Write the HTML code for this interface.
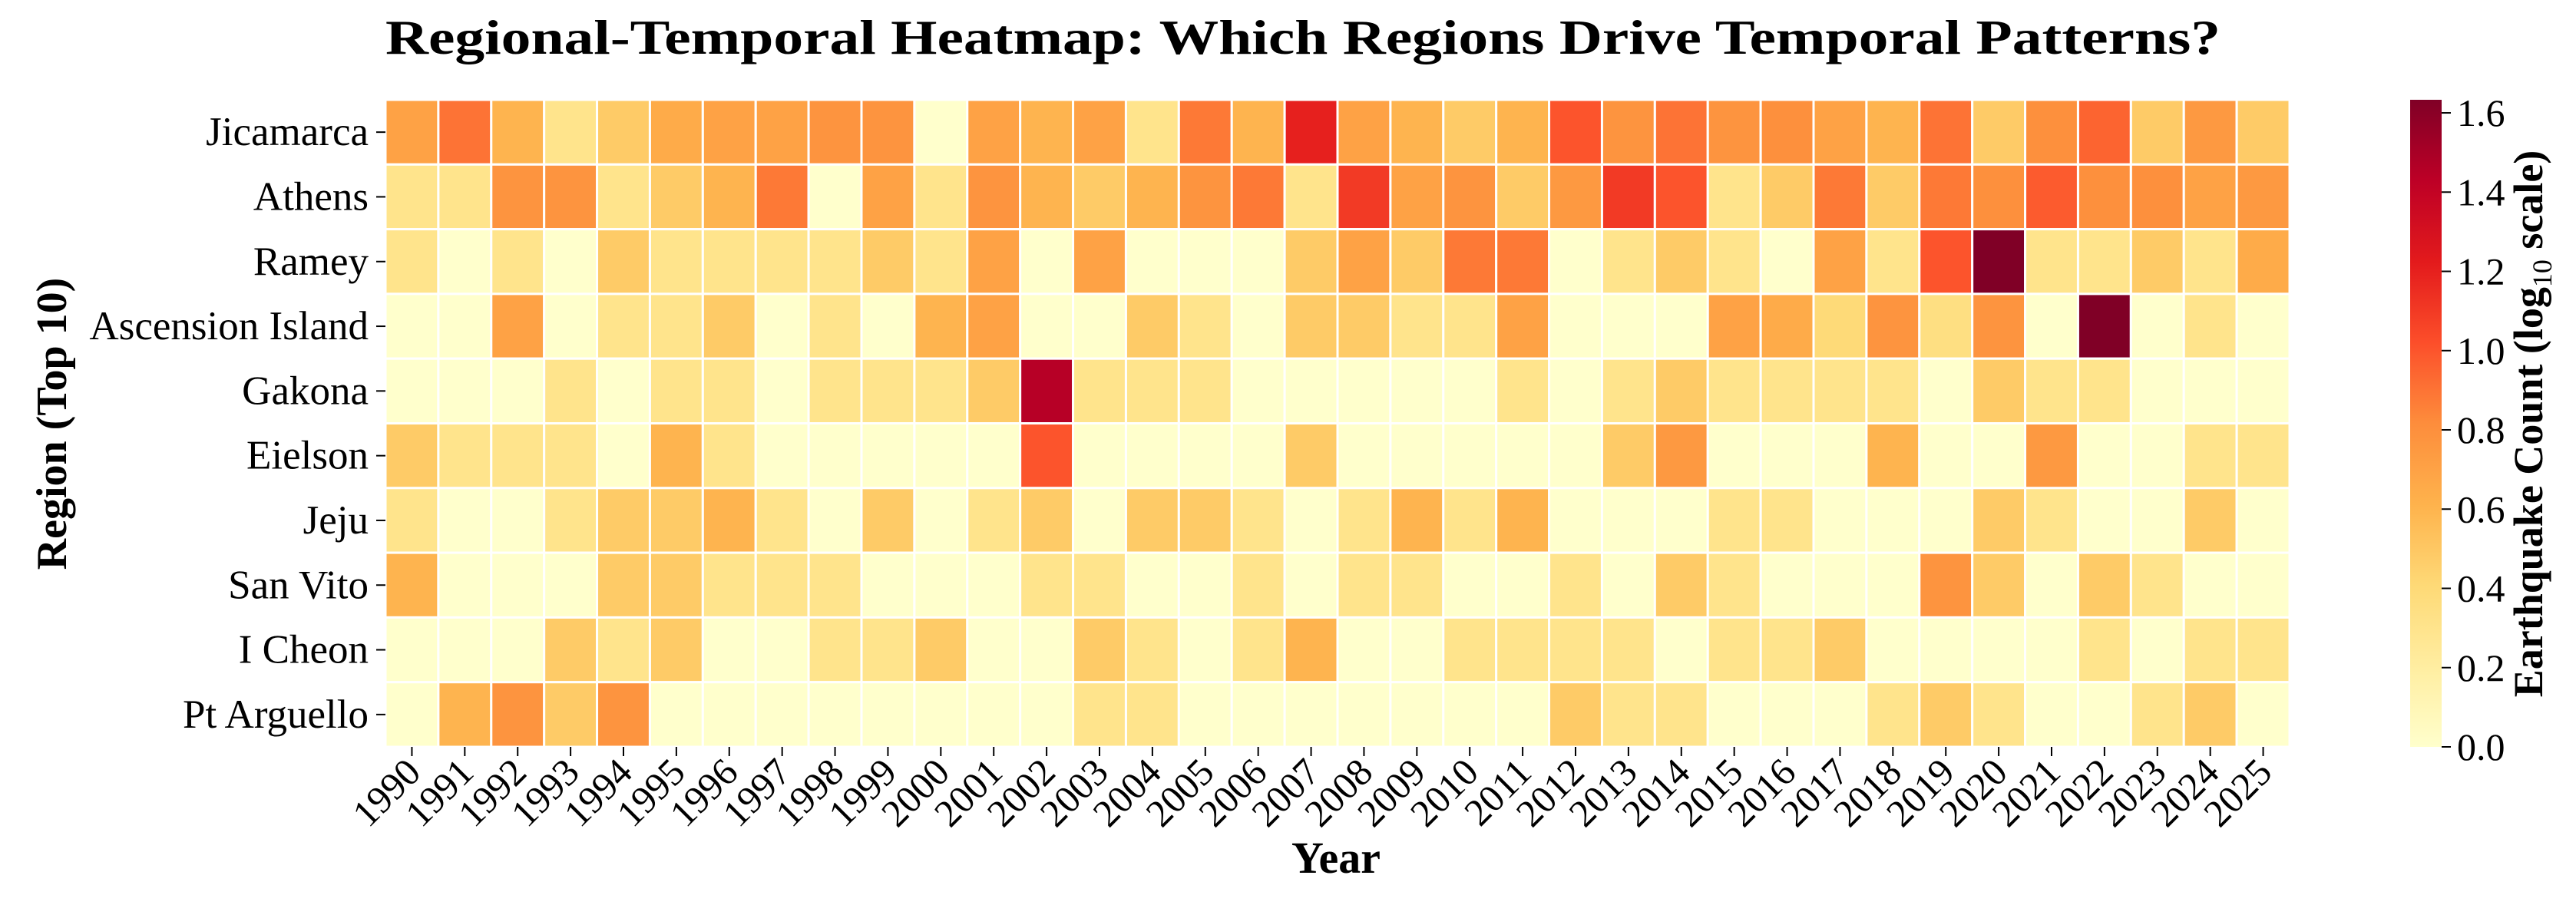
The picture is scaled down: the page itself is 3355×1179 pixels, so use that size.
<!DOCTYPE html>
<html><head><meta charset="utf-8"><style>
html,body{margin:0;padding:0;background:#fff;}
svg text{font-family:"Liberation Serif","DejaVu Serif",serif;fill:#000;}
</style></head><body>
<svg id="chart" width="3355" height="1174" viewBox="0 0 3355 1174" xmlns="http://www.w3.org/2000/svg">
<text x="1697" y="70" font-size="64" font-weight="bold" text-anchor="middle" textLength="2390" lengthAdjust="spacingAndGlyphs">Regional-Temporal Heatmap: Which Regions Drive Temporal Patterns?</text>
<g id="cells"></g>
<g id="yaxis"></g>
<g id="xaxis"></g>
<text x="0" y="0" font-size="56" font-weight="bold" text-anchor="middle" transform="translate(86,552) rotate(-90)">Region (Top 10)</text>
<text x="1740" y="1137" font-size="58" font-weight="bold" text-anchor="middle">Year</text>
<defs><linearGradient id="cbgrad" x1="0" y1="1" x2="0" y2="0"></linearGradient></defs>
<rect x="3139" y="130" width="41" height="843" fill="url(#cbgrad)"/>
<g id="cbaxis"></g>
<text x="0" y="0" font-size="54" font-weight="bold" text-anchor="middle" transform="translate(3311,552) rotate(-90)">Earthquake Count (log<tspan font-weight="normal" font-size="36" dy="12">10</tspan><tspan dy="-12"> scale)</tspan></text>
</svg>
<script>
const regions = ["Jicamarca","Athens","Ramey","Ascension Island","Gakona","Eielson","Jeju","San Vito","I Cheon","Pt Arguello"];
const years = [1990,1991,1992,1993,1994,1995,1996,1997,1998,1999,2000,2001,2002,2003,2004,2005,2006,2007,2008,2009,2010,2011,2012,2013,2014,2015,2016,2017,2018,2019,2020,2021,2022,2023,2024,2025];
const rowJicamarca = [0.7,0.9,0.6,0.3,0.48,0.65,0.7,0.7,0.78,0.78,0,0.7,0.6,0.7,0.3,0.88,0.6,1.2,0.7,0.6,0.48,0.6,1.0,0.78,0.9,0.78,0.8,0.7,0.6,0.9,0.48,0.8,0.95,0.48,0.75,0.48];
const rowAthens = [0.3,0.3,0.78,0.78,0.3,0.48,0.6,0.88,0,0.7,0.3,0.78,0.6,0.48,0.6,0.78,0.88,0.3,1.1,0.7,0.78,0.48,0.75,1.1,1.0,0.3,0.48,0.88,0.48,0.88,0.8,0.98,0.8,0.8,0.7,0.75];
const rowRamey = [0.3,0,0.3,0,0.48,0.3,0.3,0.3,0.3,0.48,0.3,0.7,0,0.7,0,0,0,0.48,0.7,0.48,0.88,0.88,0,0.3,0.48,0.3,0,0.7,0.3,1.0,1.633,0.3,0.3,0.48,0.3,0.65];
const rowAscension = [0,0,0.7,0,0.3,0.3,0.48,0,0.3,0,0.6,0.7,0,0,0.48,0.3,0,0.48,0.48,0.3,0.3,0.7,0,0,0,0.7,0.65,0.4,0.78,0.35,0.78,0,1.633,0,0.3,0];
const rowGakona = [0,0,0,0.3,0,0.3,0.3,0,0.3,0.3,0.3,0.48,1.45,0.3,0.3,0.3,0,0,0,0,0,0.3,0,0.3,0.48,0.3,0.3,0.3,0.3,0,0.48,0.3,0.3,0,0,0];
const rowEielson = [0.48,0.3,0.3,0.3,0,0.6,0.3,0,0,0,0,0,1.0,0,0,0,0,0.48,0,0,0,0,0,0.48,0.75,0,0,0,0.6,0,0,0.75,0,0,0.3,0.3];
const rowJeju = [0.3,0,0,0.3,0.48,0.48,0.6,0.3,0,0.48,0,0.3,0.48,0,0.48,0.48,0.3,0,0.3,0.6,0.3,0.6,0,0,0,0.3,0.3,0,0,0,0.48,0.3,0,0,0.48,0];
const rowSanVito = [0.6,0,0,0,0.48,0.48,0.3,0.3,0.3,0,0,0,0.3,0.3,0,0,0.3,0,0.3,0.3,0,0,0.3,0,0.48,0.3,0,0,0,0.78,0.48,0,0.48,0.3,0,0];
const rowICheon = [0,0,0,0.48,0.3,0.48,0,0,0.3,0.3,0.48,0,0,0.48,0.3,0,0.3,0.6,0,0,0.3,0.3,0.3,0.3,0,0.3,0.3,0.48,0,0,0,0,0.3,0,0.3,0.3];
const rowPtArguello = [0,0.6,0.78,0.48,0.78,0,0,0,0,0,0,0,0,0.3,0.3,0,0,0,0,0,0,0,0.48,0.3,0.3,0,0,0,0.3,0.48,0.3,0,0,0.3,0.48,0];
const values = [rowJicamarca,rowAthens,rowRamey,rowAscension,rowGakona,rowEielson,rowJeju,rowSanVito,rowICheon,rowPtArguello];
const cbTicks = [0.0,0.2,0.4,0.6,0.8,1.0,1.2,1.4,1.6];
const vmax = 1.633;

const NS = "http://www.w3.org/2000/svg";
const PX0 = 502, PX1 = 2982, PY0 = 130, PY1 = 973;
const cw = (PX1 - PX0) / years.length, ch = (PY1 - PY0) / regions.length;
const xPos = i => PX0 + i * cw;
const yPos = j => PY0 + j * ch;
const cbY = v => PY1 - (v / vmax) * (PY1 - PY0);
const stops = ["#ffffcc","#ffeda0","#fed976","#feb24c","#fd8d3c","#fc4e2a","#e31a1c","#bd0026","#800026"];
function hex(h){return [1,3,5].map(k=>parseInt(h.substr(k,2),16));}
function cmap(v){
  let t = Math.max(0, Math.min(1, v / vmax)) * (stops.length - 1);
  let i = Math.min(Math.floor(t), stops.length - 2), f = t - i;
  let a = hex(stops[i]), b = hex(stops[i+1]);
  return "rgb(" + a.map((c,k)=>Math.round(c + (b[k]-c)*f)).join(",") + ")";
}
function mk(tag, attrs, parent){
  const e = document.createElementNS(NS, tag);
  for (const k in attrs) e.setAttribute(k, attrs[k]);
  parent.appendChild(e);
  return e;
}
const cells = document.getElementById("cells");
values.forEach((row, j) => {
  row.forEach((v, i) => {
    const r = mk("rect", {x: xPos(i), y: yPos(j), width: cw, height: ch, fill: cmap(v), stroke: "#fff", "stroke-width": 3}, cells);
    
    
  });
});
const ya = document.getElementById("yaxis");
regions.forEach((name, j) => {
  const yc = yPos(j) + ch / 2;
  const tk = mk("line", {x1: PX0 - 12, x2: PX0, y1: yc, y2: yc, stroke: "#000", "stroke-width": 2}, ya);
  
  
  const t = mk("text", {x: PX0 - 22, y: yc + 17, "font-size": 53, "text-anchor": "end"}, ya);
  t.textContent = name;
  
  
});
const xa = document.getElementById("xaxis");
years.forEach((yr, i) => {
  const xc = xPos(i) + cw / 2;
  const tk = mk("line", {x1: xc, x2: xc, y1: PY1, y2: PY1 + 12, stroke: "#000", "stroke-width": 2}, xa);
  
  
  const t = mk("text", {x: 0, y: 0, "font-size": 50, "text-anchor": "end", transform: "translate(" + (xc + 14) + "," + (PY1 + 36) + ") rotate(-45)"}, xa);
  t.textContent = yr;
  
  
});
const grad = document.getElementById("cbgrad");
for (let k = 0; k <= 40; k++) {
  mk("stop", {offset: (k/40), "stop-color": cmap(vmax * k / 40)}, grad);
}
const cba = document.getElementById("cbaxis");
cbTicks.forEach(v => {
  const y = cbY(v);
  const tk = mk("line", {x1: 3180, x2: 3192, y1: y, y2: y, stroke: "#000", "stroke-width": 2}, cba);
  
  
  const t = mk("text", {x: 3200, y: y + 17, "font-size": 50}, cba);
  t.textContent = v.toFixed(1);
  
  
});
</script>
</body></html>
